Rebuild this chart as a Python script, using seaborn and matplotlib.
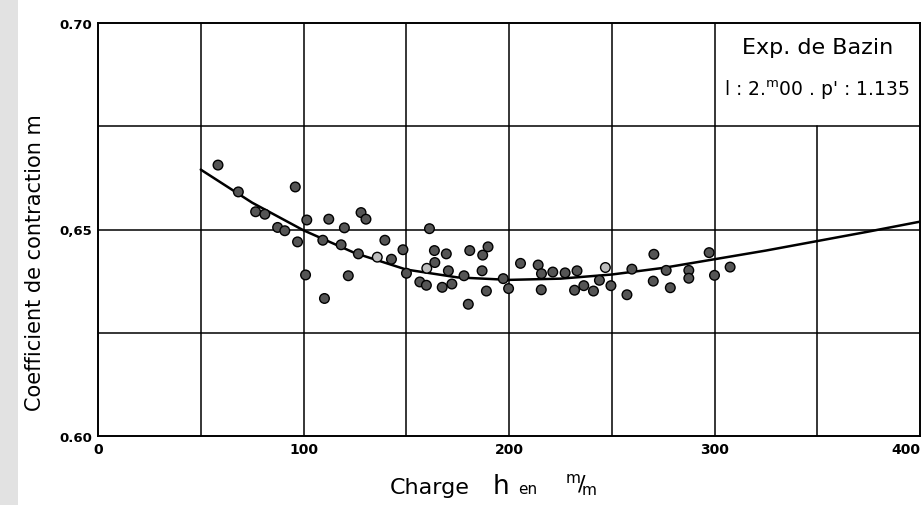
import matplotlib
matplotlib.use("Agg")
import matplotlib.pyplot as plt
import matplotlib.patches as mpatches
import numpy as np
import pandas as pd
import seaborn as sns

# ---- data (charge h in mm, coefficient m) ----
h_dark = [58.4, 68.3, 76.7, 81.2, 87.4, 90.9, 96.0, 97.1, 101.6, 101.0,
          112.3, 109.4, 119.9, 118.3, 128.0, 130.4, 126.7, 121.8, 110.2,
          161.3, 139.6, 142.8, 148.4, 150.1, 163.7, 169.5, 163.9, 170.5,
          156.6, 159.8, 167.5, 172.2, 178.1, 180.9, 187.2, 189.8, 186.9,
          189.0, 180.2, 197.2, 199.8, 205.6, 214.2, 215.8, 215.7, 221.3,
          227.3, 233.1, 231.9, 236.4, 241.1, 244.0, 249.6, 257.4, 259.8,
          270.5, 270.2, 276.5, 278.5, 287.5, 287.5, 297.4, 300.0, 307.6]
m_dark = [0.6656, 0.6591, 0.6543, 0.6537, 0.6505, 0.6497, 0.6603, 0.6470, 0.6523, 0.6390,
          0.6525, 0.6474, 0.6504, 0.6463, 0.6541, 0.6525, 0.6441, 0.6388, 0.6333,
          0.6502, 0.6474, 0.6428, 0.6451, 0.6394, 0.6449, 0.6441, 0.6420, 0.6400,
          0.6373, 0.6365, 0.6360, 0.6368, 0.6388, 0.6449, 0.6438, 0.6458, 0.6400,
          0.6351, 0.6319, 0.6381, 0.6357, 0.6418, 0.6414, 0.6393, 0.6354, 0.6397,
          0.6395, 0.6400, 0.6353, 0.6364, 0.6351, 0.6377, 0.6364, 0.6342, 0.6404,
          0.6440, 0.6375, 0.6401, 0.6359, 0.6401, 0.6382, 0.6444, 0.6389, 0.6409]
h_light = [135.9, 160.0, 246.9]
m_light = [0.6433, 0.6406, 0.6408]

curve_h = [50, 75, 100, 125, 150, 175, 200, 225, 250, 275, 300, 325, 350, 375, 400]
curve_m = [0.6645, 0.6565, 0.6498, 0.6443, 0.6403, 0.6384, 0.6378, 0.6381,
           0.6391, 0.6407, 0.6428, 0.6449, 0.6472, 0.6495, 0.6519]

x_ticks = [0, 100, 200, 300, 400]
x_tick_labels = ["0", "100", "200", "300", "400"]
y_ticks = [0.60, 0.65, 0.70]
y_tick_labels = ["0.60", "0,65", "0.70"]
v_grid = [50, 100, 150, 200, 250, 300]
h_grid = [0.625, 0.65, 0.675]

pts = pd.DataFrame({
    "h": h_dark + h_light,
    "m": m_dark + m_light,
    "tone": ["dark"] * len(h_dark) + ["light"] * len(h_light),
})
curve = pd.DataFrame({"h": curve_h, "m": curve_m})

sns.set_theme(style="white")
plt.rcParams["font.family"] = ["DejaVu Sans"]
plt.rcParams["text.color"] = "black"
plt.rcParams["xtick.color"] = "black"
plt.rcParams["ytick.color"] = "black"

W, H = 924, 506
fig = plt.figure(figsize=(W / 100, H / 100), dpi=100)
fig.patch.set_facecolor("white")
# scanned-paper grey strip on the left
fig.patches.append(mpatches.Rectangle((0, 0), 18 / W, 1, transform=fig.transFigure,
                                      facecolor="#e2e2e2", edgecolor="none", zorder=0))

ax = fig.add_axes([98 / W, 1 - 437 / H, (920 - 98) / W, (437 - 24) / H])
ax.set_facecolor("white")
ax.set_xlim(0, 400)
ax.set_ylim(0.60, 0.70)

for xv in v_grid:
    ax.axvline(xv, color="black", lw=1.1, zorder=1)
ax.axvline(350, ymax=0.75, color="black", lw=1.1, zorder=1)
for yv in h_grid:
    ax.axhline(yv, color="black", lw=1.1, zorder=1)

sns.lineplot(data=curve, x="h", y="m", ax=ax, color="black", lw=1.8,
             sort=False, estimator=None, zorder=3)
sns.scatterplot(data=pts, x="h", y="m", hue="tone", ax=ax,
                palette={"dark": "#555555", "light": "#bdbdbd"},
                edgecolor="black", linewidth=1.0, s=48, legend=False, zorder=4)

ax.set_xticks(x_ticks)
ax.set_xticklabels(x_tick_labels, fontsize=10, fontweight="bold")
ax.get_xticklabels()[-1].set_horizontalalignment("right")
ax.set_yticks(y_ticks)
ax.set_yticklabels(y_tick_labels, fontsize=9.5, fontweight="bold")
ax.tick_params(axis="both", length=0, pad=4)
ax.set_xlabel("")
ax.set_ylabel("")
for sp in ax.spines.values():
    sp.set_visible(True)
    sp.set_color("black")
    sp.set_linewidth(1.4)

# caption box text
ax.text(350, 0.6942, "Exp. de Bazin", ha="center", va="center", fontsize=16)
ax.text(350, 0.6840, r"l : 2.$^{\mathrm{m}}$00 . p' : 1.135", ha="center",
        va="center", fontsize=13.5)

# axis titles
fig.text(35 / W, 1 - 263 / H, "Coefficient de contraction m", rotation=90,
         ha="center", va="center", fontsize=15)
base = 1 - 494 / H
fig.text(390 / W, base, "Charge", ha="left", va="baseline", fontsize=16)
fig.text(493 / W, base, "h", ha="left", va="baseline", fontsize=19)
fig.text(518 / W, base, "en", ha="left", va="baseline", fontsize=11)
fig.text(565 / W, base + 0.004, r"$^{\mathrm{m}}\!/\!_{\mathrm{m}}$", ha="left",
         va="baseline", fontsize=16)

fig.savefig("out.png", dpi=100)
